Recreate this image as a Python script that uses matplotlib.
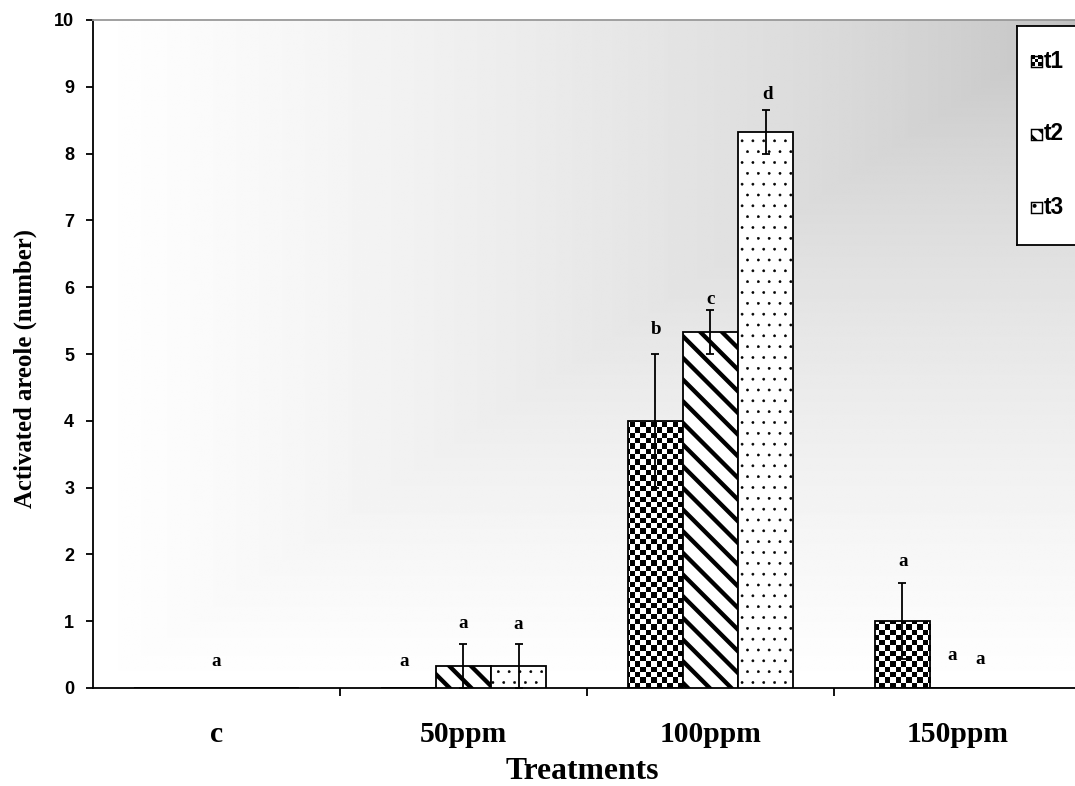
import numpy as np
import matplotlib
matplotlib.use("Agg")
import matplotlib.pyplot as plt
from matplotlib.patches import Rectangle

# data
categories = ["c", "50ppm", "100ppm", "150ppm"]
series_names = ["t1", "t2", "t3"]
t1_vals = [0.0, 0.0, 4.0, 1.0]
t1_err = [0.0, 0.0, 1.0, 0.57]
t2_vals = [0.0, 0.33, 5.33, 0.0]
t2_err = [0.0, 0.33, 0.33, 0.0]
t3_vals = [0.0, 0.33, 8.33, 0.0]
t3_err = [0.0, 0.33, 0.33, 0.0]

# significance letters: (x, y, letter)
letter_x = [0.0, 0.76, 1.0, 1.22, 1.78, 2.0, 2.23, 2.78, 2.98, 3.09]
letter_y = [0.40, 0.40, 0.97, 0.95, 5.36, 5.81, 8.89, 1.89, 0.49, 0.42]
letter_s = ["a", "a", "a", "a", "b", "c", "d", "a", "a", "a"]

SERIF = "Liberation Serif"
SANS = "Liberation Sans"
DPI = 130

fig = plt.figure(figsize=(1075 / DPI, 786 / DPI), dpi=DPI, facecolor="white")
ax = fig.add_axes([93 / 1075, 1 - 688 / 786, 988 / 1075, 668 / 786])

XLIM = (-0.5, 3.5)
YLIM = (0, 10)

# gradient background: white at bottom-left, grey toward top-right corner
u = np.linspace(0, 1, 300)[None, :]
v = np.linspace(0, 1, 300)[:, None]
t = np.maximum(1 - u, 1 - v) ** 0.6
grad = 0.74 + 0.26 * t
ax.imshow(grad, extent=(*XLIM, *YLIM), origin="lower", cmap="gray",
          vmin=0, vmax=1, aspect="auto", interpolation="bilinear", zorder=0)

x = np.arange(len(categories))
w = 0.223

# t1: checkerboard bars
b1 = ax.bar(x - w, t1_vals, w, facecolor="none", edgecolor="black",
            linewidth=1.0, zorder=3)
checker = (np.indices((126, 186)).sum(axis=0) % 2).astype(float)
for bar, val in zip(b1, t1_vals):
    if val <= 0:
        continue
    im = ax.imshow(checker, extent=(*XLIM, *YLIM), origin="lower",
                   cmap="gray", vmin=0, vmax=1, aspect="auto",
                   interpolation="nearest", zorder=2)
    im.set_clip_path(bar)

# t2: thick back-diagonal stripes
b2 = ax.bar(x, t2_vals, w, facecolor="white", edgecolor="black",
            hatch="\\\\", linewidth=1.0, zorder=3)
# t3: sparse dots
b3 = ax.bar(x + w, t3_vals, w, facecolor="white", edgecolor="black",
            hatch="..", linewidth=1.0, zorder=3)
for p in b2:
    try:
        p.set_hatch_linewidth(2.4)
    except AttributeError:
        pass
for p in b3:
    try:
        p.set_hatch_linewidth(0.3)
    except AttributeError:
        pass

# error bars, only where there is an error
for offs, vals, errs in [(-w, t1_vals, t1_err), (0, t2_vals, t2_err), (w, t3_vals, t3_err)]:
    xs = [xi + offs for xi, e in zip(x, errs) if e > 0]
    ys = [vi for vi, e in zip(vals, errs) if e > 0]
    es = [e for e in errs if e > 0]
    ax.errorbar(xs, ys, yerr=es, fmt="none", ecolor="black",
                elinewidth=1.0, capsize=2.4, capthick=1.0, zorder=4)

for lx, ly, ls in zip(letter_x, letter_y, letter_s):
    ax.text(lx, ly, ls, ha="center", va="center", fontsize=10.5,
            fontfamily=SERIF, fontweight="bold", zorder=5)

ax.set_xlim(*XLIM)
ax.set_ylim(*YLIM)

# spines
ax.spines["right"].set_visible(False)
ax.spines["top"].set_color("#999999")
ax.spines["top"].set_linewidth(1.0)
ax.spines["left"].set_linewidth(1.0)
ax.spines["bottom"].set_linewidth(1.0)

# ticks
ax.set_yticks(range(0, 11))
ax.tick_params(axis="y", direction="out", length=3.9, width=1.0, pad=6.5,
               labelsize=10)
for lab in ax.get_yticklabels():
    lab.set_fontfamily(SANS)
    lab.set_fontweight("bold")

ax.set_xticks([0.5, 1.5, 2.5])
ax.set_xticklabels([])
ax.tick_params(axis="x", which="major", direction="out", length=4.5, width=1.0)
ax.set_xticks(x, categories, minor=True)
ax.tick_params(axis="x", which="minor", length=0, pad=18.5, labelsize=16.4)
for lab in ax.get_xticklabels(minor=True):
    lab.set_fontfamily(SERIF)
    lab.set_fontweight("bold")

ax.set_xlabel("Treatments", fontsize=17.5, fontfamily=SERIF, fontweight="bold")
ax.xaxis.set_label_coords((582 - 93) / 988, -(779 - 688) / 668)
ax.xaxis.label.set_va("baseline")
ax.set_ylabel("Activated areole (number)", fontsize=13.7, fontfamily=SERIF,
              fontweight="bold")
ax.yaxis.set_label_coords(-(93 - 25) / 988, (688 - 368) / 668)
ax.yaxis.label.set_va("center")

# legend box drawn as a small axes
lax = fig.add_axes([1017 / 1075, 1 - 245 / 786, 80 / 1075, 219 / 786])
lax.set_facecolor("white")
for s in lax.spines.values():
    s.set_color("black")
    s.set_linewidth(1.0)
lax.set_xticks([])
lax.set_yticks([])
entry_y = [35, 108, 181]
sw = 11
sx = 14
# t1 swatch: small checker
lax.imshow((np.indices((3, 3)).sum(axis=0) % 2).astype(float),
           extent=(sx, sx + sw, entry_y[0] + sw / 2, entry_y[0] - sw / 2),
           cmap="gray", vmin=0, vmax=1, interpolation="nearest", aspect="auto")
lax.add_patch(Rectangle((sx, entry_y[0] - sw / 2), sw, sw, facecolor="none",
                        edgecolor="black", linewidth=0.8))
sw2 = Rectangle((sx, entry_y[1] - sw / 2), sw, sw, facecolor="white",
                edgecolor="black", hatch="\\\\\\", linewidth=0.8)
lax.add_patch(sw2)
try:
    sw2.set_hatch_linewidth(1.6)
except AttributeError:
    pass
lax.add_patch(Rectangle((sx, entry_y[2] - sw / 2), sw, sw, facecolor="white",
                        edgecolor="black", hatch="..", linewidth=0.8))
lax.set_xlim(0, 80)
lax.set_ylim(219, 0)
for name, ey in zip(series_names, entry_y):
    lax.text(27, ey, name, ha="left", va="center", fontsize=12.5,
             fontfamily=SANS, fontweight="bold")

fig.savefig("out.png", dpi=DPI, facecolor="white")
